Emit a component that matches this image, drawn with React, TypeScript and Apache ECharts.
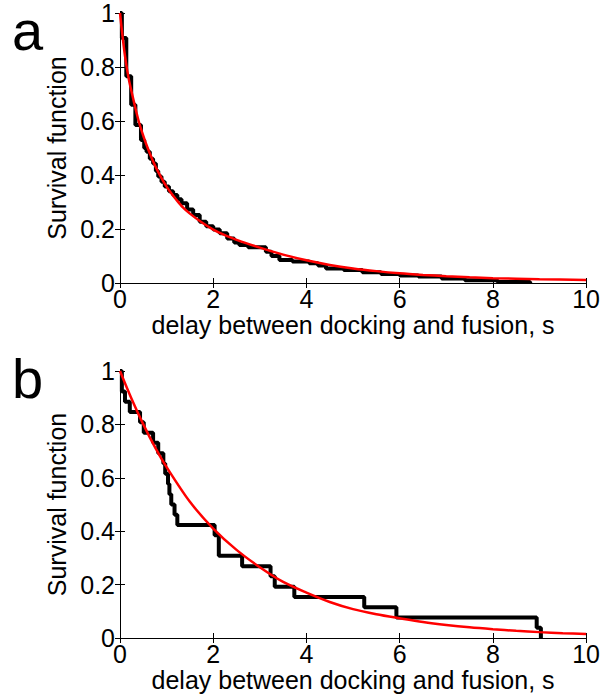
import React, { useEffect, useRef } from 'react';
import * as echarts from 'echarts';

// Panel a: empirical survival (x = delay s, y = S after drop)
const stepAX = [0, 0.04, 0.135, 0.24, 0.33, 0.45, 0.52, 0.57, 0.64, 0.71, 0.77, 0.82, 0.89, 0.96, 1.05, 1.14, 1.23, 1.32, 1.44, 1.57, 1.71, 1.85, 2.0, 2.14, 2.3, 2.45, 2.56, 2.75, 3.13, 3.25, 3.42, 3.7, 4.06, 4.25, 4.42, 4.8, 5.2, 5.6, 6.0, 6.4, 6.9, 7.4, 8.1, 8.8];
const stepAY = [1, 0.907, 0.766, 0.66, 0.585, 0.53, 0.5, 0.486, 0.46, 0.443, 0.415, 0.394, 0.375, 0.357, 0.34, 0.326, 0.31, 0.295, 0.272, 0.252, 0.227, 0.21, 0.198, 0.184, 0.165, 0.15, 0.141, 0.132, 0.116, 0.1, 0.085, 0.08, 0.073, 0.065, 0.054, 0.048, 0.04, 0.033, 0.028, 0.024, 0.017, 0.01, 0.004, 0];
// Panel a: fitted curve (red)
const fitAX = [0, 0.05, 0.1, 0.15, 0.2, 0.3, 0.4, 0.5, 0.6, 0.7, 0.8, 0.9, 1.0, 1.1, 1.2, 1.35, 1.5, 1.75, 2.0, 2.25, 2.5, 2.75, 3.0, 3.5, 4.0, 4.5, 5.0, 5.5, 6.0, 6.5, 7.0, 7.5, 8.0, 9.0, 10.0];
const fitAY = [1.0, 0.92, 0.85, 0.792, 0.745, 0.67, 0.6, 0.545, 0.497, 0.455, 0.418, 0.386, 0.357, 0.332, 0.31, 0.28, 0.257, 0.225, 0.198, 0.177, 0.16, 0.145, 0.131, 0.105, 0.084, 0.067, 0.054, 0.044, 0.036, 0.03, 0.025, 0.021, 0.018, 0.014, 0.011];

// Panel b: empirical survival
const stepBX = [0, 0.04, 0.107, 0.21, 0.43, 0.51, 0.71, 0.82, 0.93, 0.97, 1.03, 1.06, 1.1, 1.17, 1.23, 2.03, 2.12, 2.62, 3.23, 3.32, 3.74, 5.24, 5.93, 8.94, 9.03];
const stepBY = [1, 0.923, 0.885, 0.846, 0.808, 0.769, 0.731, 0.692, 0.654, 0.615, 0.577, 0.538, 0.5, 0.462, 0.423, 0.385, 0.308, 0.269, 0.231, 0.192, 0.154, 0.115, 0.077, 0.038, 0];
// Panel b: fitted curve
const fitBX = [0, 0.25, 0.5, 0.75, 1.0, 1.5, 2.0, 2.5, 3.0, 3.5, 4.0, 4.5, 5.0, 5.5, 6.0, 6.5, 7.0, 7.5, 8.0, 8.5, 9.0, 9.5, 10.0];
const fitBY = [1.0, 0.895, 0.8, 0.715, 0.64, 0.51, 0.41, 0.33, 0.265, 0.21, 0.17, 0.135, 0.108, 0.089, 0.074, 0.06, 0.049, 0.04, 0.033, 0.027, 0.022, 0.018, 0.015];

const panelLabels = ['a', 'b'];
const xTitle = 'delay between docking and fusion, s';
const yTitle = 'Survival function';

const FONT = '"Liberation Sans", Arial, sans-serif';

const zip = (xs: number[], ys: number[]) => xs.map((x, i) => [x, ys[i]]);

export default function App() {
  const ref = useRef<HTMLDivElement>(null);
  useEffect(() => {
    if (!ref.current) return;
    const chart = echarts.init(ref.current, null, { renderer: 'svg' });
    const grids = [
      { left: 120, top: 13, width: 468, height: 270 },
      { left: 120, top: 371, width: 468, height: 267 },
    ];
    const axisLine = { show: true, lineStyle: { color: '#000', width: 1 } };
    const tick = { show: true, inside: true, length: 5, lineStyle: { color: '#000', width: 1 } };
    const xAxes: any[] = [];
    const yAxes: any[] = [];
    grids.forEach((_, gi) => {
      xAxes.push({
        type: 'value', gridIndex: gi, min: 0, max: 10, interval: 2, position: 'bottom',
        axisLine, axisTick: tick, splitLine: { show: false },
        axisLabel: { fontSize: 25, color: '#000', fontFamily: FONT, margin: 3 },
        name: xTitle, nameLocation: 'middle', nameGap: 29,
        nameTextStyle: { fontSize: 25, color: '#000', fontFamily: FONT },
      });
      xAxes.push({
        type: 'value', gridIndex: gi, min: 0, max: 10, interval: 2, position: 'top',
        axisLine, axisTick: tick, splitLine: { show: false }, axisLabel: { show: false },
      });
      yAxes.push({
        type: 'value', gridIndex: gi, min: 0, max: 1, interval: 0.2, position: 'left',
        axisLine, axisTick: tick, splitLine: { show: false },
        axisLabel: { fontSize: 25, color: '#000', fontFamily: FONT, margin: 5 },
        name: yTitle, nameLocation: 'middle', nameGap: 46, nameRotate: 90,
        nameTextStyle: { fontSize: 25, color: '#000', fontFamily: FONT },
      });
      yAxes.push({
        type: 'value', gridIndex: gi, min: 0, max: 1, interval: 0.2, position: 'right',
        axisLine, axisTick: tick, splitLine: { show: false }, axisLabel: { show: false },
      });
    });
    const stepSeries = (gi: number, data: number[][]) => ({
      type: 'line', xAxisIndex: gi * 2, yAxisIndex: gi * 2, data, step: 'end',
      showSymbol: false, lineStyle: { color: '#000', width: 4 }, z: 2,
    });
    const fitSeries = (gi: number, data: number[][]) => ({
      type: 'line', xAxisIndex: gi * 2, yAxisIndex: gi * 2, data, smooth: 0.3,
      showSymbol: false, lineStyle: { color: '#ff0000', width: 2.5 }, z: 3,
    });
    chart.setOption({
      animation: false,
      backgroundColor: '#fff',
      grid: grids,
      xAxis: xAxes,
      yAxis: yAxes,
      series: [
        stepSeries(0, zip(stepAX, stepAY)),
        fitSeries(0, zip(fitAX, fitAY)),
        stepSeries(1, zip(stepBX, stepBY)),
        fitSeries(1, zip(fitBX, fitBY)),
      ],
      graphic: [
        { type: 'text', left: 12, top: 2, style: { text: panelLabels[0], font: `56px ${FONT}`, fill: '#000' } },
        { type: 'text', left: 12, top: 350, style: { text: panelLabels[1], font: `56px ${FONT}`, fill: '#000' } },
      ],
    });
    return () => chart.dispose();
  }, []);
  return <div ref={ref} style={{ position: 'absolute', left: 0, top: 0, width: 603, height: 698 }} />;
}
